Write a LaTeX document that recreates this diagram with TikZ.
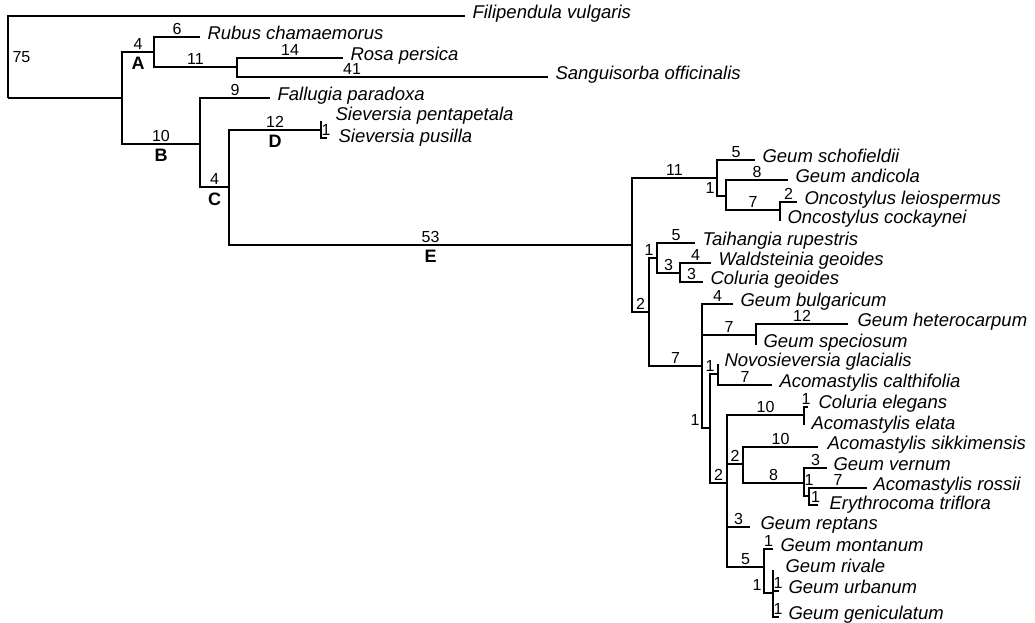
\documentclass[tikz,border=0pt]{standalone}
\usepackage{fontspec}
\setmainfont{Liberation Sans}
\newcommand\taxfont{\fontsize{18.5}{20}\selectfont\itshape}
\newcommand\lenfont{\fontsize{16}{17}\selectfont}
\newcommand\cladefont{\fontsize{18}{19}\selectfont\bfseries}

\begin{document}
\begin{tikzpicture}[x=1pt,y=-1pt,line width=1.1pt,
    taxon/.style={pos=1,anchor=mid west,inner sep=0pt,xshift=7pt,font=\taxfont},
    blen/.style={pos=.75,above,inner sep=2pt,font=\lenfont},
    clade/.style={pos=.75,below=4pt,inner sep=1pt,font=\cladefont}]
  \useasboundingbox (0,0) rectangle (1035,623);
  % internal nodes
  \coordinate (root) at (8,98);
  \coordinate (n0) at (122,98);
  \coordinate (a) at (154,52);
  \coordinate (n1) at (237,67);
  \coordinate (b) at (200,144);
  \coordinate (c) at (229,187);
  \coordinate (d) at (321,130);
  \coordinate (e) at (632,245);
  \coordinate (g1) at (717,178);
  \coordinate (g2) at (726,196);
  \coordinate (g3) at (780,210);
  \coordinate (g4) at (649,312);
  \coordinate (g5) at (657,258);
  \coordinate (g6) at (680,273);
  \coordinate (g7) at (702,366);
  \coordinate (g8) at (756,335);
  \coordinate (g9) at (710,428);
  \coordinate (g10) at (718,374);
  \coordinate (g11) at (727,483);
  \coordinate (g12) at (804,415);
  \coordinate (g13) at (743,464);
  \coordinate (g14) at (804,483);
  \coordinate (g15) at (809,496);
  \coordinate (g16) at (764,567);
  \coordinate (g17) at (773,593);
  % tips
  \coordinate (filipendula) at (465,16);
  \coordinate (rubus) at (200,37);
  \coordinate (rosa) at (343,58);
  \coordinate (sanguisorba) at (548,77);
  \coordinate (fallugia) at (270,98);
  \coordinate (pentapetala) at (321,121);
  \coordinate (pusilla) at (327,138);
  \coordinate (schofieldii) at (755,160);
  \coordinate (andicola) at (788,180);
  \coordinate (leiospermus) at (797,202);
  \coordinate (cockaynei) at (780,221);
  \coordinate (taihangia) at (695,243);
  \coordinate (waldsteinia) at (711,263);
  \coordinate (cgeoides) at (703,282);
  \coordinate (bulgaricum) at (733,304);
  \coordinate (heterocarpum) at (848,324);
  \coordinate (speciosum) at (756,345);
  \coordinate (novosieversia) at (718,364);
  \coordinate (calthifolia) at (772,385);
  \coordinate (elegans) at (808,407);
  \coordinate (elata) at (804,425);
  \coordinate (sikkimensis) at (818,447);
  \coordinate (vernum) at (827,468);
  \coordinate (rossii) at (867,488);
  \coordinate (erythrocoma) at (818,505);
  \coordinate (reptans) at (750,527);
  \coordinate (montanum) at (773,549);
  \coordinate (rivale) at (773,570);
  \coordinate (urbanum) at (779,591);
  \coordinate (geniculatum) at (779,617);

  \draw (root) |- (filipendula)
    node[pos=.25,right,inner sep=2pt,xshift=2pt,font=\lenfont] (l-root) {75}
    node[taxon] (t-filipendula) {Filipendula vulgaris};
  \draw (root) -- (n0);
  \draw (n0) |- (a) node[blen] (l-a) {4} node[clade] (c-a) {A};
  \draw (a) |- (rubus) node[blen] (l-rubus) {6}
    node[taxon] (t-rubus) {Rubus chamaemorus};
  \draw (a) |- (n1) node[blen] (l-n1) {11};
  \draw (n1) |- (rosa) node[blen] (l-rosa) {14}
    node[taxon] (t-rosa) {Rosa persica};
  \draw (n1) |- (sanguisorba) node[blen,pos=.685] (l-sanguisorba) {41}
    node[taxon] (t-sanguisorba) {Sanguisorba officinalis};
  \draw (n0) |- (b) node[blen] (l-b) {10} node[clade] (c-b) {B};
  \draw (b) |- (fallugia) node[blen] (l-fallugia) {9}
    node[taxon] (t-fallugia) {Fallugia paradoxa};
  \draw (b) |- (c) node[blen] (l-c) {4} node[clade] (c-c) {C};
  \draw (c) |- (d) node[blen] (l-d) {12} node[clade] (c-d) {D};
  \draw (d) |- (pentapetala)
    node[taxon,xshift=7pt,yshift=3pt] (t-pentapetala) {Sieversia pentapetala};
  \draw (d) |- (pusilla) node[blen,xshift=2pt] (l-pusilla) {1}
    node[taxon,xshift=4pt,yshift=-2pt] (t-pusilla) {Sieversia pusilla};
  \draw (c) |- (e) node[blen] (l-e) {53} node[clade] (c-e) {E};
  % Geum clade
  \draw (e) |- (g1) node[blen] (l-g1) {11};
  \draw (g1) |- (schofieldii) node[blen] (l-schofieldii) {5}
    node[taxon] (t-schofieldii) {Geum schofieldii};
  \draw (g1) |- (g2) node[pos=.5,above left,inner sep=2pt,font=\lenfont] (l-g2) {1};
  \draw (g2) |- (andicola) node[blen] (l-andicola) {8}
    node[taxon] (t-andicola) {Geum andicola};
  \draw (g2) |- (g3) node[blen] (l-g3) {7};
  \draw (g3) |- (leiospermus) node[blen] (l-leiospermus) {2}
    node[taxon] (t-leiospermus) {Oncostylus leiospermus};
  \draw (g3) |- (cockaynei) node[taxon] (t-cockaynei) {Oncostylus cockaynei};
  \draw (e) |- (g4) node[blen] (l-g4) {2};
  \draw (g4) |- (g5) node[pos=.5,above,inner sep=2pt,font=\lenfont] (l-g5) {1};
  \draw (g5) |- (taihangia) node[blen] (l-taihangia) {5}
    node[taxon] (t-taihangia) {Taihangia rupestris};
  \draw (g5) |- (g6) node[blen] (l-g6) {3};
  \draw (g6) |- (waldsteinia) node[blen] (l-waldsteinia) {4}
    node[taxon] (t-waldsteinia) {Waldsteinia geoides};
  \draw (g6) |- (cgeoides) node[blen] (l-cgeoides) {3}
    node[taxon] (t-cgeoides) {Coluria geoides};
  \draw (g4) |- (g7) node[blen] (l-g7) {7};
  \draw (g7) |- (bulgaricum) node[blen] (l-bulgaricum) {4}
    node[taxon] (t-bulgaricum) {Geum bulgaricum};
  \draw (g7) |- (g8) node[blen] (l-g8) {7};
  \draw (g8) |- (heterocarpum) node[blen] (l-heterocarpum) {12}
    node[taxon,xshift=2pt] (t-heterocarpum) {Geum heterocarpum};
  \draw (g8) |- (speciosum) node[taxon] (t-speciosum) {Geum speciosum};
  \draw (g7) |- (g9) node[pos=.5,above left,inner sep=2pt,font=\lenfont] (l-g9) {1};
  \draw (g9) |- (g10) node[pos=.5,above,inner sep=2pt,font=\lenfont] (l-g10) {1};
  \draw (g10) |- (novosieversia)
    node[taxon,xshift=-1pt] (t-novosieversia) {Novosieversia glacialis};
  \draw (g10) |- (calthifolia) node[blen] (l-calthifolia) {7}
    node[taxon] (t-calthifolia) {Acomastylis calthifolia};
  \draw (g9) |- (g11) node[blen] (l-g11) {2};
  \draw (g11) |- (g12) node[blen] (l-g12) {10};
  \draw (g12) |- (elegans) node[blen] (l-elegans) {1}
    node[taxon,xshift=3pt,yshift=1pt] (t-elegans) {Coluria elegans};
  \draw (g12) |- (elata) node[taxon,yshift=-2pt] (t-elata) {Acomastylis elata};
  \draw (g11) |- (g13) node[blen] (l-g13) {2};
  \draw (g13) |- (sikkimensis) node[blen] (l-sikkimensis) {10}
    node[taxon,xshift=2pt] (t-sikkimensis) {Acomastylis sikkimensis};
  \draw (g13) |- (g14) node[blen] (l-g14) {8};
  \draw (g14) |- (vernum) node[blen] (l-vernum) {3}
    node[taxon,xshift=-1pt] (t-vernum) {Geum vernum};
  \draw (g14) |- (g15);
  \draw (g15) |- (rossii) node[pos=.5,above,inner sep=2pt,font=\lenfont] (l-g15) {1}
    node[blen] (l-rossii) {7}
    node[taxon,xshift=-1pt] (t-rossii) {Acomastylis rossii};
  \draw (g15) |- (erythrocoma) node[blen,xshift=2pt] (l-erythrocoma) {1}
    node[taxon,xshift=4pt,yshift=-2pt] (t-erythrocoma) {Erythrocoma triflora};
  \draw (g11) |- (reptans) node[blen] (l-reptans) {3}
    node[taxon,xshift=3pt] (t-reptans) {Geum reptans};
  \draw (g11) |- (g16) node[blen] (l-g16) {5};
  \draw (g16) |- (montanum) node[blen] (l-montanum) {1}
    node[taxon] (t-montanum) {Geum montanum};
  \draw (g16) |- (g17) node[pos=.5,above left,inner sep=2pt,font=\lenfont] (l-g17) {1};
  \draw (g17) |- (rivale) node[taxon,xshift=5pt] (t-rivale) {Geum rivale};
  \draw (g17) |- (urbanum) node[blen,xshift=2pt] (l-urbanum) {1}
    node[taxon,xshift=2pt] (t-urbanum) {Geum urbanum};
  \draw (g17) |- (geniculatum) node[blen,xshift=2pt] (l-geniculatum) {1}
    node[taxon,xshift=2pt] (t-geniculatum) {Geum geniculatum};
\end{tikzpicture}
\end{document}
